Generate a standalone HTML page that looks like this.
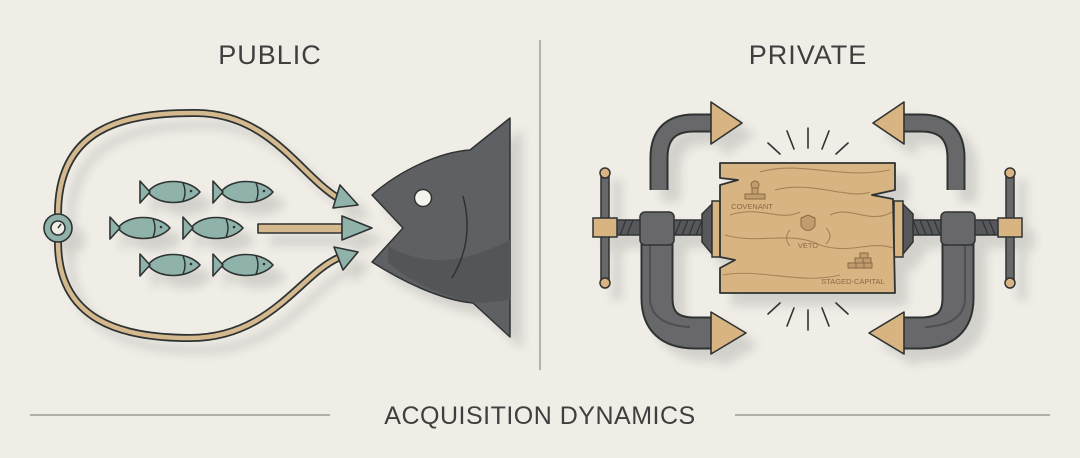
<!DOCTYPE html>
<html><head><meta charset="utf-8"><style>
html,body{margin:0;padding:0;background:#efede6}
svg{display:block}
</style></head><body>
<svg width="1080" height="458" viewBox="0 0 1080 458" xmlns="http://www.w3.org/2000/svg" font-family="Liberation Sans, sans-serif">
<defs>
<filter id="sh" x="-20%" y="-20%" width="150%" height="150%">
<feGaussianBlur in="SourceAlpha" stdDeviation="5"/>
<feOffset dx="12" dy="12" result="b"/>
<feComponentTransfer><feFuncA type="linear" slope="0.12"/></feComponentTransfer>
<feMerge><feMergeNode/><feMergeNode in="SourceGraphic"/></feMerge>
</filter>
<g id="f">
<path d="M-22,0 C-12,-14 18,-14 30,0 C18,14 -12,14 -22,0 Z" fill="#8fb3ab" stroke="#2f3333" stroke-width="1.6" stroke-linejoin="round"/>
<path d="M-30,-11 L-20,0 L-30,11 Z" fill="#8fb3ab" stroke="#2f3333" stroke-width="1.6" stroke-linejoin="round"/>
<path d="M13,-9 Q17,0 13,9" fill="none" stroke="#2f3333" stroke-width="1.4"/>
<circle cx="21" cy="-1" r="1.3" fill="#2f3333"/>
</g>
<g id="c">
<path d="M659,190 L659,158 Q659,123 694,123 L715,123" fill="none" stroke="#2f3333" stroke-width="19"/>
<path d="M659,190 L659,158 Q659,123 694,123 L715,123" fill="none" stroke="#67686b" stroke-width="15"/>
<polygon points="711,102 742,123 711,144" fill="#d8b483" stroke="#2f3333" stroke-width="1.6" stroke-linejoin="round"/>
<path d="M657,240 L657,298 Q657,333 695,333 L714,333" fill="none" stroke="#2f3333" stroke-width="33"/>
<path d="M657,240 L657,298 Q657,333 695,333 L714,333" fill="none" stroke="#67686b" stroke-width="29"/>
<path d="M650,245 L650,300 Q652,325 690,327" fill="none" stroke="#4e4f52" stroke-width="2"/>
<polygon points="711,312 746,333 711,354" fill="#d8b483" stroke="#2f3333" stroke-width="1.6" stroke-linejoin="round"/>
<rect x="605" y="220" width="100" height="15" fill="#58595c" stroke="#2f3333" stroke-width="1.5"/>
<g stroke="#2f3333" stroke-width="1.2">
<line x1="620" y1="235" x2="626" y2="220"/><line x1="627" y1="235" x2="633" y2="220"/><line x1="675" y1="235" x2="681" y2="220"/><line x1="682" y1="235" x2="688" y2="220"/><line x1="689" y1="235" x2="695" y2="220"/><line x1="696" y1="235" x2="702" y2="220"/>
</g>
<rect x="601" y="173" width="8" height="110" fill="#67686b" stroke="#2f3333" stroke-width="1.5"/>
<circle cx="605" cy="173" r="5" fill="#d8b483" stroke="#2f3333" stroke-width="1.5"/>
<circle cx="605" cy="283" r="5" fill="#d8b483" stroke="#2f3333" stroke-width="1.5"/>
<rect x="593" y="218" width="24" height="19" fill="#d8b483" stroke="#2f3333" stroke-width="1.5"/>
<rect x="640" y="212" width="34" height="33" rx="5" fill="#67686b" stroke="#2f3333" stroke-width="1.5"/>
<path d="M702,214 L712,204 L712,254 L702,242 Z" fill="#58595c" stroke="#2f3333" stroke-width="1.5"/>
<rect x="712" y="201" width="9" height="56" fill="#d8b483" stroke="#2f3333" stroke-width="1.5"/>
</g>
</defs>
<rect width="1080" height="458" fill="#efede6"/>
<text x="270" y="64" font-size="27" fill="#3f3f3f" text-anchor="middle" letter-spacing="1">PUBLIC</text>
<text x="808" y="64" font-size="27" fill="#3f3f3f" text-anchor="middle" letter-spacing="1">PRIVATE</text>
<line x1="540" y1="40" x2="540" y2="370" stroke="#8a8a8a" stroke-width="1.2"/>
<line x1="30" y1="415" x2="330" y2="415" stroke="#8a8a8a" stroke-width="1.2"/>
<line x1="735" y1="415" x2="1050" y2="415" stroke="#8a8a8a" stroke-width="1.2"/>
<text x="540" y="424" font-size="25" fill="#3f3f3f" text-anchor="middle" letter-spacing="0.5">ACQUISITION DYNAMICS</text>

<g filter="url(#sh)">
<g fill="none" stroke-linecap="round">
<path d="M58,214 C58,130 120,112 197,113 C270,114 300,175 338,198" stroke="#2f3333" stroke-width="8"/>
<path d="M58,214 C58,130 120,112 197,113 C270,114 300,175 338,198" stroke="#d4b98f" stroke-width="4.5"/>
<path d="M58,242 C58,320 120,338 190,338 C270,338 300,275 338,258" stroke="#2f3333" stroke-width="8"/>
<path d="M58,242 C58,320 120,338 190,338 C270,338 300,275 338,258" stroke="#d4b98f" stroke-width="4.5"/>
</g>
<g fill="#8fb3ab" stroke="#2f3333" stroke-width="1.6" stroke-linejoin="round">
<polygon points="358,205 333,208 340,185"/>
<polygon points="358,252 334,247 343,270"/>
<rect x="258" y="224" width="84" height="9" fill="#d4b98f"/>
<polygon points="372,228 342,216 342,240"/>
<circle cx="58" cy="228" r="14"/>
</g>
<circle cx="58" cy="228" r="7" fill="#efede6" stroke="#2f3333" stroke-width="1.6"/>
<line x1="58" y1="228" x2="61" y2="224" stroke="#2f3333" stroke-width="1.5"/>
<use href="#f" x="170" y="192"/><use href="#f" x="243" y="192"/>
<use href="#f" x="140" y="228"/><use href="#f" x="213" y="228"/>
<use href="#f" x="170" y="265"/><use href="#f" x="243" y="265"/>
</g>

<g filter="url(#sh)">
<path d="M510,118 L510,337 L473,303 C440,300 400,280 372,262 L403,228 L372,195 C400,170 440,152 470,150 Z" fill="#5f6063" stroke="#2f3333" stroke-width="1.5" stroke-linejoin="round"/>
<path d="M388,246 C430,270 470,260 510,240 L510,300 L480,303 C440,298 405,278 388,262 Z" fill="#535458"/>
<circle cx="423" cy="198" r="8.5" fill="#f4f3ee" stroke="#2f3333" stroke-width="1.5"/>
<path d="M463,196 Q475,240 452,278" fill="none" stroke="#2f3333" stroke-width="1.5"/>
</g>

<g filter="url(#sh)">
<use href="#c"/>
<use href="#c" transform="translate(1615,0) scale(-1,1)"/>
<path d="M720,163 L895,163 L895,190 L872,195 L893,199 L895,293 L720,293 L720,268 L735,260 L720,257 L720,185 L738,180 L720,178 Z" fill="#d8b483" stroke="#2f3333" stroke-width="1.8" stroke-linejoin="round"/>
</g>
<g fill="none" stroke="#a9825a" stroke-width="1.1">
<path d="M760,172 C800,160 840,180 890,170"/>
<path d="M775,190 C810,180 850,200 870,192"/>
<path d="M730,215 C760,205 780,222 800,212"/>
<path d="M830,215 C850,205 870,225 892,212"/>
<path d="M725,235 C760,245 790,230 820,245 C850,255 870,240 893,248"/>
<path d="M723,275 C760,268 800,285 840,275"/>
<path d="M790,230 Q783,238 790,246"/><path d="M826,228 Q834,236 826,244"/>
</g>
<g fill="#c19c6c" stroke="#8a6a45" stroke-width="1">
<circle cx="755" cy="185" r="4"/><rect x="752" y="188" width="6" height="6"/><rect x="745" y="194" width="20" height="5"/>
<path d="M801,218 L808,215 L815,218 L815,226 Q808,235 801,226 Z"/>
<rect x="860" y="253" width="8" height="5"/><rect x="855" y="258" width="8" height="5"/><rect x="863" y="258" width="8" height="5"/><rect x="848" y="263" width="8" height="5"/><rect x="856" y="263" width="8" height="5"/><rect x="864" y="263" width="8" height="5"/>
</g>
<g font-size="7.5" fill="#8a6a45" text-anchor="middle">
<text x="752" y="209">COVENANT</text>
<text x="808" y="248">VETO</text>
<text x="853" y="284">STAGED-CAPITAL</text>
</g>
<g stroke="#2f3333" stroke-width="1.6" stroke-linecap="round">
<line x1="808" y1="128" x2="808" y2="148"/><line x1="787" y1="131" x2="794" y2="149"/><line x1="829" y1="131" x2="822" y2="149"/><line x1="768" y1="143" x2="780" y2="154"/><line x1="848" y1="143" x2="836" y2="154"/>
<line x1="808" y1="310" x2="808" y2="330"/><line x1="794" y1="308" x2="787" y2="326"/><line x1="822" y1="308" x2="829" y2="326"/><line x1="780" y1="303" x2="768" y2="314"/><line x1="836" y1="303" x2="848" y2="314"/>
</g>
</svg>
</body></html>
